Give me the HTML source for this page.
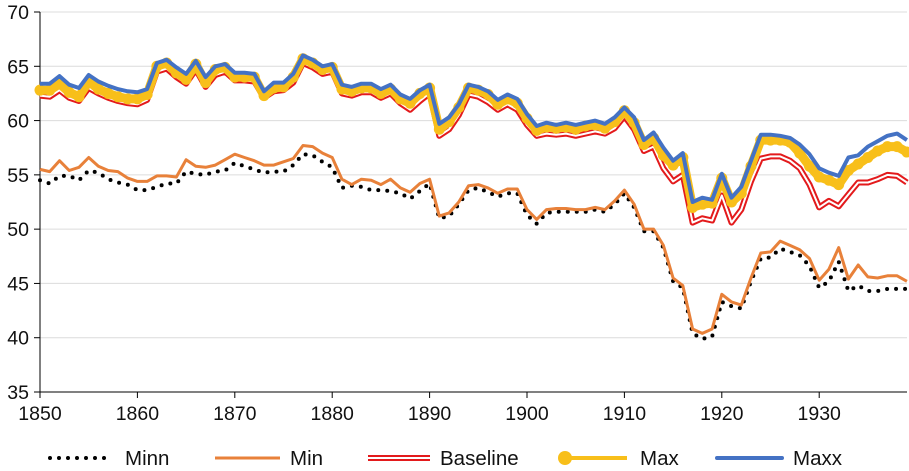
<!DOCTYPE html>
<html><head><meta charset="utf-8"><style>
body{margin:0;background:#fff;}
svg{display:block;font-family:"Liberation Sans",Arial,sans-serif;}
</style></head><body>
<svg id="chart" width="909" height="471"></svg>
<script>
const years=[];for(let y=1850;y<=1939;y++)years.push(y);
const yTicks=[35,40,45,50,55,60,65,70];
const xTicks=[1850,1860,1870,1880,1890,1900,1910,1920,1930];
const minnVals=[54.5,54.2,54.9,54.9,54.5,55.4,55.2,54.6,54.3,54.1,
53.6,53.6,53.9,54.2,54.2,55.3,55.1,55.0,55.3,55.4,
56.1,55.8,55.5,55.2,55.3,55.3,55.9,56.9,56.8,56.2,
55.7,53.8,54.0,53.9,53.6,53.6,53.5,53.3,52.8,53.5,
54.2,51.0,51.2,52.3,53.6,53.8,53.4,53.0,53.3,53.3,
51.3,50.5,51.5,51.6,51.6,51.6,51.6,51.8,51.6,52.3,
53.3,52.0,49.8,49.8,48.3,45.2,44.6,40.4,39.9,40.1,
43.3,42.9,42.7,45.2,47.3,47.4,48.2,47.9,47.6,46.6,
44.6,45.2,47.0,44.3,44.8,44.3,44.3,44.5,44.5,44.5];
const minVals=[55.5,55.3,56.3,55.4,55.7,56.6,55.8,55.4,55.3,54.7,
54.4,54.4,54.9,54.9,54.8,56.4,55.8,55.7,55.9,56.4,
56.9,56.6,56.3,55.9,55.9,56.2,56.5,57.7,57.6,57.0,
56.6,54.6,54.1,54.6,54.5,54.1,54.6,53.8,53.4,54.2,
54.6,51.2,51.5,52.5,54.0,54.1,53.8,53.3,53.7,53.7,
51.8,50.9,51.8,51.9,51.9,51.8,51.8,52.0,51.8,52.6,
53.6,52.3,50.0,50.0,48.5,45.5,44.8,40.8,40.4,40.8,
44.0,43.3,43.0,45.5,47.8,47.9,48.9,48.5,48.1,47.3,
45.3,46.3,48.3,45.4,46.7,45.6,45.5,45.7,45.7,45.2];
const baseVals=[62.3,62.2,62.8,62.1,61.8,63.0,62.5,62.1,61.8,61.6,
61.5,61.9,64.5,64.8,64.0,63.4,64.7,63.1,64.2,64.5,
63.7,63.7,63.6,62.1,62.7,62.8,63.5,65.3,64.9,64.3,
64.5,62.5,62.3,62.6,62.6,62.1,62.5,61.6,61.0,61.8,
62.5,58.6,59.2,60.5,62.4,62.2,61.7,61.0,61.5,61.0,
59.6,58.6,58.8,58.7,58.8,58.6,58.8,59.0,58.8,59.3,
60.4,59.2,57.2,57.6,55.6,54.4,55.0,50.6,51.0,50.8,
53.1,50.6,51.8,54.4,56.5,56.7,56.7,56.3,55.6,54.1,
52.0,52.6,52.1,53.2,54.3,54.3,54.6,55.0,54.9,54.3];
const maxVals=[62.8,62.8,63.4,62.6,62.2,63.6,62.9,62.5,62.2,62.0,
62.0,62.4,65.0,65.3,64.4,63.8,65.2,63.5,64.7,64.9,
64.0,64.0,64.0,62.3,63.0,63.1,64.0,65.7,65.3,64.7,
64.9,62.9,62.7,63.0,63.0,62.5,62.9,62.0,61.6,62.5,
63.0,59.2,59.9,61.2,63.0,62.8,62.4,61.5,62.0,61.6,
60.2,59.1,59.4,59.3,59.4,59.2,59.5,59.6,59.3,59.9,
60.9,59.8,57.8,58.4,56.8,55.9,56.6,52.0,52.3,52.4,
54.7,52.5,53.3,55.8,58.2,58.2,58.2,58.0,57.0,55.8,
54.8,54.5,54.1,55.4,56.0,56.6,57.2,57.6,57.6,57.1];
const maxxVals=[63.4,63.4,64.1,63.3,63.0,64.2,63.6,63.2,62.9,62.7,
62.6,62.9,65.3,65.6,64.9,64.3,65.5,64.0,65.0,65.2,
64.4,64.4,64.3,62.7,63.5,63.5,64.3,66.0,65.6,65.0,
65.2,63.3,63.1,63.4,63.4,62.9,63.3,62.4,62.0,62.8,
63.3,59.7,60.3,61.5,63.3,63.1,62.7,61.9,62.4,62.0,
60.6,59.5,59.8,59.6,59.8,59.6,59.8,60.0,59.7,60.3,
61.2,60.3,58.2,58.9,57.5,56.3,57.0,52.5,52.9,52.7,
55.1,52.9,53.9,56.3,58.7,58.7,58.6,58.4,57.8,56.9,
55.6,55.2,54.9,56.6,56.8,57.6,58.1,58.6,58.8,58.2];

const NS="http://www.w3.org/2000/svg";
const svg=document.getElementById('chart');
const X0=40,PX=9.74,Y0=392,PY=10.857;
function xs(y){return X0+(y-1850)*PX;}
function ys(v){return Y0-(v-35)*PY;}
function mk(t,a,parent){const e=document.createElementNS(NS,t);for(const k in a)e.setAttribute(k,a[k]);(parent||svg).appendChild(e);return e;}

yTicks.forEach(v=>{
  if(v>35){const g=mk('line',{x1:40,x2:907,y1:ys(v),y2:ys(v),stroke:'#dcdcdc','stroke-width':1});
  
  }
  const t=mk('line',{x1:34,x2:40,y1:ys(v),y2:ys(v),stroke:'#000'});
  
  
  const l=mk('text',{x:29,y:ys(v)+7,'text-anchor':'end','font-size':19.5,fill:'#111'});l.textContent=v;
  
  
});
xTicks.forEach(v=>{
  const t=mk('line',{x1:xs(v),x2:xs(v),y1:392,y2:398,stroke:'#000'});
  
  
  const l=mk('text',{x:xs(v),y:420,'text-anchor':'middle','font-size':19.5,fill:'#111'});l.textContent=v;
  
  
});
const ya=mk('line',{x1:40,x2:40,y1:12,y2:392,stroke:'#000'});


const xa=mk('line',{x1:40,x2:907,y1:392,y2:392,stroke:'#000'});



function pts(vals){return vals.map((v,i)=>xs(years[i]).toFixed(1)+','+ys(v).toFixed(1)).join(' ');}
function line(vals,attrs,name){const p=mk('polyline',Object.assign({points:pts(vals),fill:'none','stroke-linejoin':'round'},attrs));

return p;}

line(minnVals,{stroke:'#000','stroke-width':4,'stroke-dasharray':'0 9','stroke-linecap':'round'},'series-minn');
line(minVals,{stroke:'#e8813a','stroke-width':3},'series-min');
line(baseVals,{stroke:'#e31a1c','stroke-width':6},'series-baseline');
line(baseVals,{stroke:'#fff','stroke-width':2},'series-baseline-inner');
line(maxVals,{stroke:'#f8bf1a','stroke-width':9,'stroke-linecap':'round'},'series-max');
const mg=mk('g',{fill:'#f8bf1a'});


maxVals.forEach((v,i)=>{const c=mk('circle',{cx:xs(years[i]),cy:ys(v),r:5.5},mg);

});
line(maxxVals,{stroke:'#4472c4','stroke-width':4},'series-maxx');

// legend
const LY=458;
function leg(name,x1,x2,tx,label,draw){
  const g=mk('g',{});
  
  
  draw(g,x1,x2);
  const t=mk('text',{x:tx,y:LY+7,'font-size':20.5,fill:'#111'},g);t.textContent=label;
}
leg('minn',50,112,125,'Minn',(g,a,b)=>mk('line',{x1:a,x2:b,y1:LY,y2:LY,stroke:'#000','stroke-width':4,'stroke-dasharray':'0 9','stroke-linecap':'round'},g));
leg('min',215,280,290,'Min',(g,a,b)=>mk('line',{x1:a,x2:b,y1:LY,y2:LY,stroke:'#e8813a','stroke-width':3},g));
leg('baseline',368,430,440,'Baseline',(g,a,b)=>{mk('line',{x1:a,x2:b,y1:LY,y2:LY,stroke:'#e31a1c','stroke-width':6},g);mk('line',{x1:a,x2:b,y1:LY,y2:LY,stroke:'#fff','stroke-width':2},g);});
leg('max',565,627,640,'Max',(g,a,b)=>{mk('line',{x1:a,x2:b,y1:LY,y2:LY,stroke:'#f8bf1a','stroke-width':4},g);mk('circle',{cx:a,cy:LY,r:7,fill:'#f8bf1a'},g);});
leg('maxx',717,782,793,'Maxx',(g,a,b)=>mk('line',{x1:a,x2:b,y1:LY,y2:LY,stroke:'#4472c4','stroke-width':4,'stroke-linecap':'round'},g));
</script>
</body></html>
